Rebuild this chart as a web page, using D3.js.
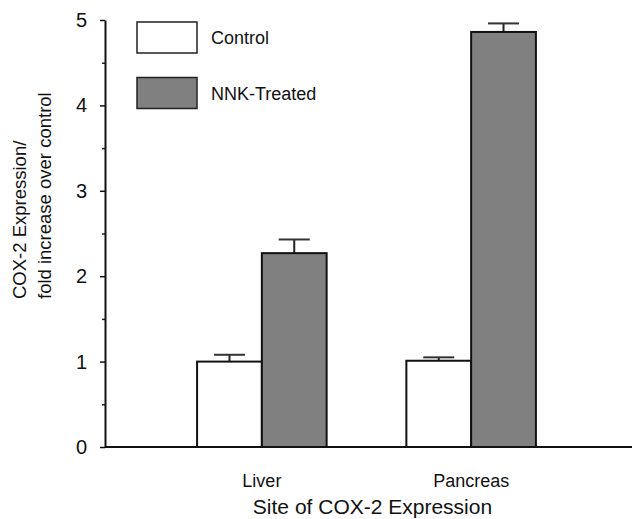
<!DOCTYPE html>
<html>
<head>
<meta charset="utf-8">
<script src="https://cdn.jsdelivr.net/npm/d3@7"></script>
<style>
    body { margin: 0; background: #fff; }
    svg text { font-family: Arial, 'Liberation Sans', sans-serif; fill: #111; }
</style>
</head>
<body>
<div id="chart"></div>
<script>
'use strict';

// data
var sites     = ['Liver', 'Pancreas'];
var groups    = ['Control', 'NNK-Treated'];
var control   = [1.00, 1.01];
var controlSE = [0.08, 0.04];
var treated   = [2.27, 4.86];
var treatedSE = [0.16, 0.10];
var yTicks    = [0, 1, 2, 3, 4, 5];

function barChart()
{
    var scope = this;
    var exports = {};

    scope.width  = 632;
    scope.height = 519;
    scope.left   = 105;
    scope.right  = 628;
    scope.top    = 20;
    scope.bottom = 447;

    scope.colors = {'Control': '#ffffff', 'NNK-Treated': '#808080'};

    scope.rows = [];

    scope.buildRows = function()
    {
        for (var i = 0; i < sites.length; i++) {
            scope.rows.push({site: sites[i], group: 'Control', value: control[i], se: controlSE[i]});
            scope.rows.push({site: sites[i], group: 'NNK-Treated', value: treated[i], se: treatedSE[i]});
        }
    }

    scope.createScales = function()
    {
        scope.xScale = d3.scaleBand().domain(sites)
            .range([scope.left, scope.right])
            .paddingInner(0.381).paddingOuter(0.44);
        scope.xSub = d3.scaleBand().domain(groups)
            .range([0, scope.xScale.bandwidth()]);
        scope.yScale = d3.scaleLinear().domain([0, 5]).range([scope.bottom, scope.top]);
    }

    scope.createAxes = function(svg)
    {
        // minor ticks at the half units
        var minor = svg.append('g')
            .attr('transform', 'translate(' + scope.left + ',0)')
            .call(d3.axisLeft(scope.yScale).tickValues(d3.range(0.5, 5, 1)).tickSize(3).tickFormat(''));
        minor.select('.domain').remove();
        minor.selectAll('line').attr('stroke', '#222').attr('stroke-width', 1.5);

        var yAxis = svg.append('g')
            .attr('transform', 'translate(' + scope.left + ',0)')
            .call(d3.axisLeft(scope.yScale).tickValues(yTicks).tickFormat(d3.format('d'))
                .tickSize(5).tickPadding(13).tickSizeOuter(0));
        yAxis.select('.domain').attr('stroke', '#111').attr('stroke-width', 2);
        yAxis.selectAll('line').attr('stroke', '#111').attr('stroke-width', 1.5);
        yAxis.selectAll('text').style('font-size', '20px')
            .style('font-family', 'Arial, "Liberation Sans", sans-serif').attr('fill', '#111');

        var xAxis = svg.append('g')
            .attr('transform', 'translate(0,' + scope.bottom + ')')
            .call(d3.axisBottom(scope.xScale).tickSize(0).tickPadding(27));
        xAxis.select('.domain').attr('d', 'M' + scope.left + ',0H' + scope.width)
            .attr('stroke', '#111').attr('stroke-width', 2);
        xAxis.selectAll('text').style('font-size', '18px')
            .style('font-family', 'Arial, "Liberation Sans", sans-serif').attr('fill', '#111');
    }

    scope.appendBars = function(svg)
    {
        var g = svg.append('g');

        var bars = g.selectAll('g.bar')
            .data(scope.rows)
            .enter()
            .append('g')
            .attr('class', 'bar');

        // error bars first, bars drawn on top of the stem
        bars.each(function(d) {
            var cx = scope.xScale(d.site) + scope.xSub(d.group) + scope.xSub.bandwidth() / 2;
            var yTop = scope.yScale(d.value + d.se);
            d3.select(this).append('line')
                .attr('x1', cx).attr('x2', cx)
                .attr('y1', scope.yScale(d.value)).attr('y2', yTop)
                .attr('stroke', '#222').attr('stroke-width', 2);
            d3.select(this).append('line')
                .attr('x1', cx - 15.5).attr('x2', cx + 15.5)
                .attr('y1', yTop).attr('y2', yTop)
                .attr('stroke', '#333').attr('stroke-width', 2);
        });

        bars.append('rect')
            .attr('x', function(d) { return scope.xScale(d.site) + scope.xSub(d.group); })
            .attr('y', function(d) { return scope.yScale(d.value); })
            .attr('width', scope.xSub.bandwidth())
            .attr('height', function(d) { return scope.bottom - scope.yScale(d.value); })
            .attr('fill', function(d) { return scope.colors[d.group]; })
            .attr('stroke', '#111')
            .attr('stroke-width', 2);
    }

    scope.appendLegend = function(svg)
    {
        var leg = svg.append('g').attr('transform', 'translate(137,22)');
        var items = leg.selectAll('g')
            .data(groups)
            .enter()
            .append('g')
            .attr('transform', function(d, i) { return 'translate(0,' + (i * 55.5) + ')'; });

        items.append('rect')
            .attr('width', 60).attr('height', 31)
            .attr('fill', function(d) { return scope.colors[d]; })
            .attr('stroke', '#222').attr('stroke-width', 1.5);

        items.append('text')
            .attr('x', 74).attr('y', 22)
            .style('font-size', '18px')
            .text(function(d) { return d; });
    }

    scope.appendLabels = function(svg)
    {
        var yLab = svg.append('text')
            .attr('transform', 'translate(0,299) rotate(-90)')
            .style('font-size', '18.5px')
            .style('text-anchor', 'start');
        yLab.append('tspan').attr('x', 0).attr('y', 26).text('COX-2 Expression/');
        yLab.append('tspan').attr('x', 0).attr('y', 51).text('fold increase over control');

        svg.append('text')
            .attr('x', (scope.left + scope.width) / 2 + 4)
            .attr('y', 514)
            .style('font-size', '21px')
            .style('text-anchor', 'middle')
            .text('Site of COX-2 Expression');
    }

    exports.run = function(div)
    {
        var svg = d3.select(div).append('svg')
            .attr('width', scope.width)
            .attr('height', scope.height);

        scope.buildRows();
        scope.createScales();
        scope.appendBars(svg);
        scope.createAxes(svg);
        scope.appendLegend(svg);
        scope.appendLabels(svg);
    }

    return exports;
}

new barChart().run('#chart');
</script>
</body>
</html>
